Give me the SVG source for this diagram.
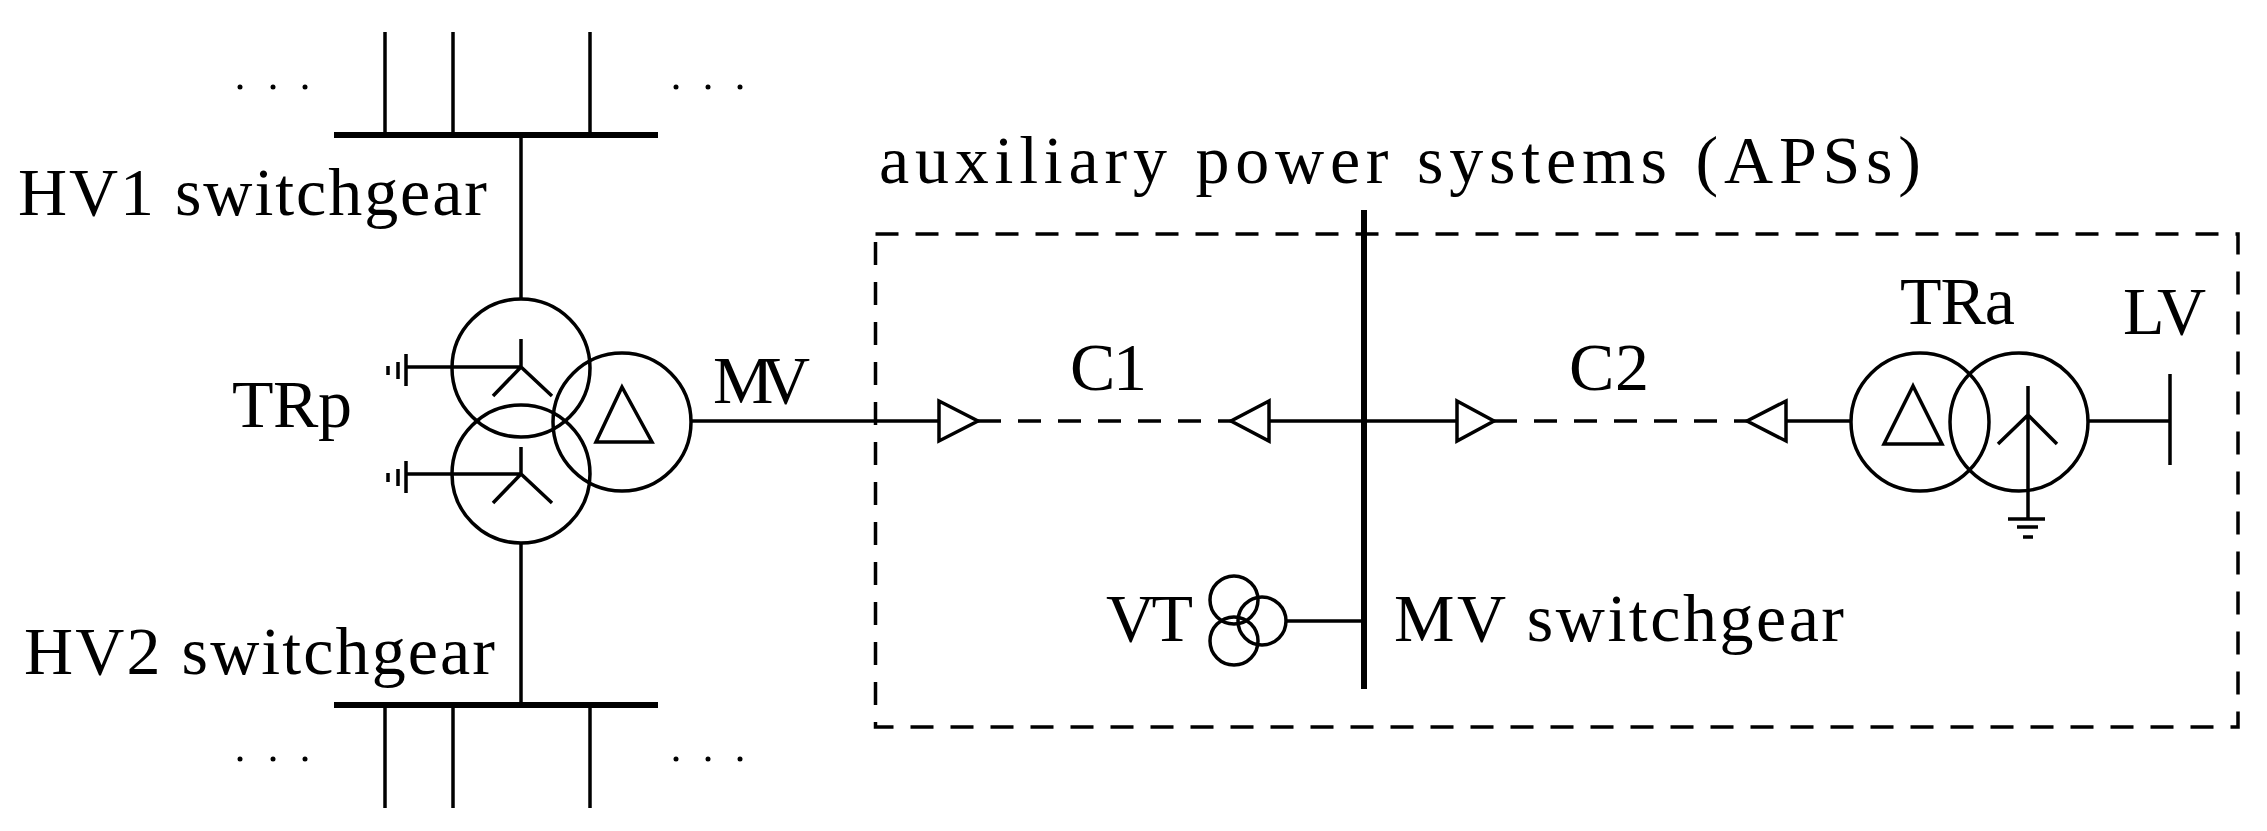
<svg xmlns="http://www.w3.org/2000/svg" width="2267" height="831" viewBox="0 0 2267 831">
<style>
.l{stroke:#000;stroke-width:3.5;fill:none}
.b{stroke:#000;stroke-width:6;fill:none}
.d{stroke:#000;stroke-width:3.5;fill:none;stroke-dasharray:23 17}
.a{stroke:#000;stroke-width:3.5;fill:#fff}
text{font-family:"Liberation Serif","DejaVu Serif",serif;font-size:68px;fill:#000}
.dot{fill:#000}
</style>
<rect width="2267" height="831" fill="#fff"/>
<g id="hv1">
<line class="b" x1="334" y1="135" x2="658" y2="135"/>
<line class="l" x1="385" y1="32" x2="385" y2="135"/><line class="l" x1="453" y1="32" x2="453" y2="135"/><line class="l" x1="590" y1="32" x2="590" y2="135"/>
<g class="dot"><circle cx="240" cy="87" r="2.5"/><circle cx="273" cy="87" r="2.5"/><circle cx="305" cy="87" r="2.5"/><circle cx="676" cy="87" r="2.5"/><circle cx="708" cy="87" r="2.5"/><circle cx="740" cy="87" r="2.5"/></g>
<text x="18" y="215" textLength="469">HV1 switchgear</text>
</g>
<g id="hv2">
<line class="b" x1="334" y1="705" x2="658" y2="705"/>
<line class="l" x1="385" y1="705" x2="385" y2="808"/><line class="l" x1="453" y1="705" x2="453" y2="808"/><line class="l" x1="590" y1="705" x2="590" y2="808"/>
<g class="dot"><circle cx="240" cy="759" r="2.5"/><circle cx="273" cy="759" r="2.5"/><circle cx="305" cy="759" r="2.5"/><circle cx="676" cy="759" r="2.5"/><circle cx="708" cy="759" r="2.5"/><circle cx="740" cy="759" r="2.5"/></g>
<text x="24" y="674" textLength="471">HV2 switchgear</text>
</g>
<g id="trp">
<circle class="l" cx="521" cy="368" r="69"/>
<circle class="l" cx="521" cy="474" r="69"/>
<circle class="l" cx="622" cy="422" r="69"/>
<path class="l" d="M521 339V367M493 396L521 367L552 396M406 367H521"/>
<path class="l" d="M521 447V474M493 503L521 474L552 503M406 474H521"/>
<path class="l" d="M406 354V386M398 362V379M388 366V375M406 461V493M398 469V486M388 473V482"/>
<polygon class="l" points="622,387 596,442 652,442"/>
<text x="232" y="427" textLength="120">TRp</text>
<text x="713" y="403" textLength="97">MV</text>
</g>
<g id="aps">
<rect class="d" x="875.5" y="234" width="1362.5" height="493"/>
<text x="879" y="183" textLength="1042">auxiliary power systems (APSs)</text>
</g>
<g id="mvbus">
<line class="b" x1="1364" y1="210" x2="1364" y2="689"/>
<text x="1394" y="641" textLength="450">MV switchgear</text>
</g>
<g id="vt">
<circle class="l" cx="1234" cy="600" r="24"/>
<circle class="l" cx="1262" cy="621" r="24"/>
<circle class="l" cx="1234" cy="641" r="24"/>
<text x="1106" y="641" textLength="87">VT</text>
</g>
<g id="tra">
<circle class="l" cx="1920" cy="422" r="69"/>
<circle class="l" cx="2019" cy="422" r="69"/>
<polygon class="l" points="1913,386 1884,444 1942,444"/>
<path class="l" d="M2028 386V519M1998 444L2028 415L2057 444M2008 519H2045M2017 527H2038M2023 537H2033"/>
<text x="1900" y="324" textLength="115">TRa</text>
</g>
<g id="lv">
<line class="l" x1="2170" y1="374" x2="2170" y2="465"/>
<text x="2123" y="334" textLength="83">LV</text>
</g>
<g id="connectors">
<line class="l" x1="691" y1="421" x2="939" y2="421"/>
<polygon class="a" points="939,401 978,421 939,441"/>
<line class="d" x1="978" y1="421" x2="1231" y2="421"/>
<polygon class="a" points="1269,401 1231,421 1269,441"/>
<line class="l" x1="1269" y1="421" x2="1457" y2="421"/>
<polygon class="a" points="1457,401 1494,421 1457,441"/>
<line class="d" x1="1494" y1="421" x2="1747" y2="421"/>
<polygon class="a" points="1786,401 1747,421 1786,441"/>
<line class="l" x1="1786" y1="421" x2="1851" y2="421"/>
<line class="l" x1="2088" y1="421" x2="2170" y2="421"/>
<line class="l" x1="1286" y1="621" x2="1364" y2="621"/>
<line class="l" x1="521" y1="135" x2="521" y2="299"/>
<line class="l" x1="521" y1="543" x2="521" y2="705"/>
<text x="1070" y="390" textLength="77">C1</text>
<text x="1569" y="390" textLength="80">C2</text>
</g>
</svg>
